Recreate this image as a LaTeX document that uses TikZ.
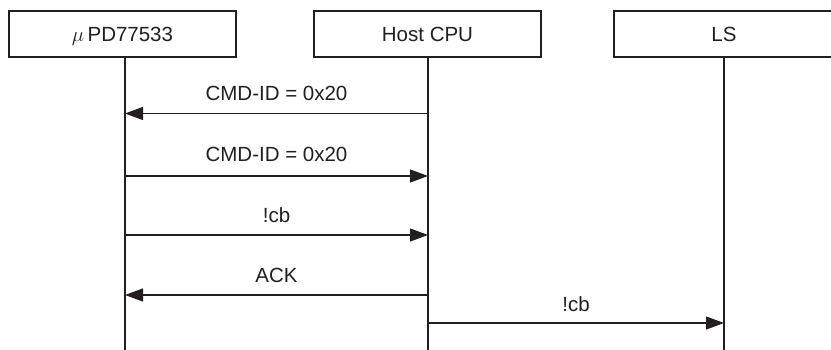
\documentclass[tikz,border=0pt]{standalone}
\usepackage{fontspec}
\setmainfont{Liberation Sans}
\usetikzlibrary{arrows.meta}
\definecolor{ink}{HTML}{231F20}
\begin{document}
\begin{tikzpicture}[x=1pt,y=-1pt,
  every node/.style={font=\fontsize{20.5}{24}\selectfont, text=ink, inner sep=0pt},
  actor/.style={draw=ink, line width=2pt, minimum width=227pt, minimum height=46pt,
    text height=14.7pt, text depth=0pt},
  lifeline/.style={draw=ink, line width=1.3pt},
  msg/.style={draw=ink, line width=1.3pt, -{Triangle[length=18pt,width=13pt]}},
  lbl/.style={anchor=base}]
\clip (0,0) rectangle (831,350);
\fill[white] (0,0) rectangle (831,350);
% actors
\node[actor] (upd) at (122.5,34) {$\mu$\,PD77533};
\node[actor] (host) at (427.5,34) {Host CPU};
\node[actor, minimum width=220pt] (ls) at (724,34) {LS};
% lifeline ends
\coordinate (updE) at (125,352);
\coordinate (hostE) at (428,352);
\coordinate (lsE) at (724,352);
\draw[lifeline] (upd.south -| updE) -- (updE);
\draw[lifeline] (host.south -| hostE) -- (hostE);
\draw[lifeline] (ls.south -| lsE) -- (lsE);
% message points
\coordinate (h1) at (428,113.5); \coordinate (u1) at (125,113.5);
\coordinate (u2) at (125,176);   \coordinate (h2) at (428,176);
\coordinate (u3) at (125,235);   \coordinate (h3) at (428,235);
\coordinate (h4) at (428,295);   \coordinate (u4) at (125,295);
\coordinate (h5) at (428,323);   \coordinate (l5) at (724,323);
\draw[msg] (h1) -- node[lbl, yshift=13pt] (m1) {CMD-ID = 0x20} (u1);
\draw[msg] (u2) -- node[lbl, yshift=14pt] (m2) {CMD-ID = 0x20} (h2);
\draw[msg] (u3) -- node[lbl, yshift=12.5pt] (m3) {!cb} (h3);
\draw[msg] (h4) -- node[lbl, yshift=12pt] (m4) {ACK} (u4);
\draw[msg] (h5) -- node[lbl, yshift=11pt] (m5) {!cb} (l5);
\end{tikzpicture}
\end{document}
